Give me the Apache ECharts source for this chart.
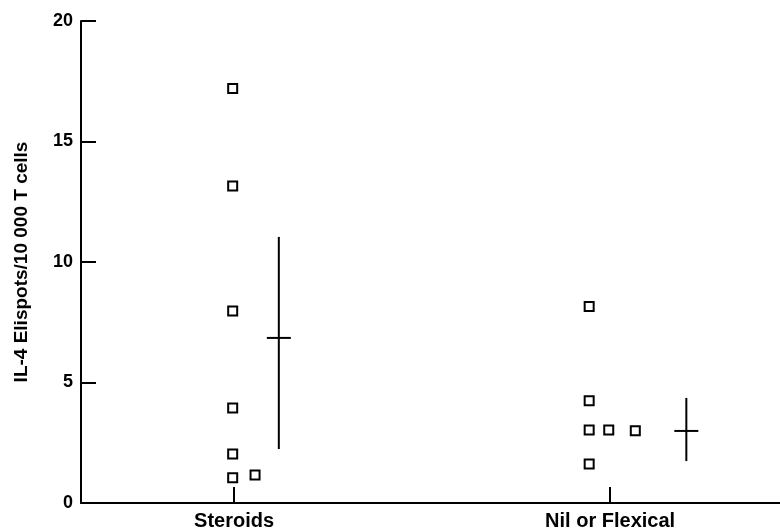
<!DOCTYPE html>
<html>
<head>
<meta charset="utf-8">
<script src="https://cdn.jsdelivr.net/npm/echarts@6/dist/echarts.min.js"></script>
<style>
  html, body { margin: 0; padding: 0; background: #fff; }
  #chart { width: 780px; height: 532px; }
</style>
</head>
<body>
<div id="chart"></div>
<script>
// groups and where they sit on the horizontal scale
var categories = ['Steroids', 'Nil or Flexical']
var categoryPos = [21.9, 75.7]

// individual patients: [x, IL-4 Elispots]
var steroidPoints = [[21.7, 17.2], [21.7, 13.15], [21.7, 7.97], [21.7, 3.94], [21.7, 2.03], [21.7, 1.05], [24.9, 1.16]]
var nilPoints = [[72.7, 8.15], [72.7, 4.24], [72.7, 3.03], [75.5, 3.03], [79.3, 3.0], [72.7, 1.62]]

// mean and spread: [x, mean, low, high]
var meanBars = [[28.3, 6.85, 2.24, 11.04], [86.6, 2.99, 1.74, 4.36]]

var yTicks = [0, 5, 10, 15, 20]

var chart = echarts.init(document.getElementById('chart'))

var fontFam = '"Liberation Sans", Arial, sans-serif'

chart.setOption({
  animation: false,
  grid: { left: 81, right: 0, top: 21, bottom: 29 },
  xAxis: {
    type: 'value',
    min: 0,
    max: 100,
    splitLine: { show: false },
    axisLine: { lineStyle: { color: '#000', width: 2 } },
    axisTick: {
      show: true,
      inside: true,
      length: 16,
      customValues: categoryPos,
      lineStyle: { color: '#000', width: 2 }
    },
    axisLabel: {
      customValues: categoryPos,
      formatter: function (v) {
        var i = categoryPos.indexOf(v)
        return i >= 0 ? categories[i] : ''
      },
      color: '#000',
      fontFamily: fontFam,
      fontWeight: 'bold',
      fontSize: 20,
      margin: 8
    }
  },
  yAxis: {
    type: 'value',
    min: 0,
    max: 20,
    interval: 5,
    name: 'IL-4 Elispots/10 000 T cells',
    nameLocation: 'middle',
    nameGap: 50,
    nameTextStyle: {
      color: '#000',
      fontFamily: fontFam,
      fontWeight: 'bold',
      fontSize: 19
    },
    splitLine: { show: false },
    axisLine: { show: true, lineStyle: { color: '#000', width: 2 } },
    axisTick: {
      show: true,
      inside: true,
      length: 15,
      customValues: yTicks,
      lineStyle: { color: '#000', width: 2 }
    },
    axisLabel: {
      customValues: yTicks,
      color: '#000',
      fontFamily: fontFam,
      fontWeight: 'bold',
      fontSize: 18,
      margin: 8
    }
  },
  series: [
    {
      type: 'scatter',
      data: steroidPoints.concat(nilPoints),
      symbol: 'rect',
      symbolSize: 9,
      itemStyle: { color: '#fff', borderColor: '#000', borderWidth: 2, opacity: 1 }
    },
    {
      type: 'custom',
      data: meanBars,
      renderItem: function (params, api) {
        var x = api.value(0)
        var mid = api.coord([x, api.value(1)])
        var lo = api.coord([x, api.value(2)])
        var hi = api.coord([x, api.value(3)])
        var style = { stroke: '#000', lineWidth: 2 }
        return {
          type: 'group',
          children: [
            { type: 'line', shape: { x1: hi[0], y1: hi[1], x2: lo[0], y2: lo[1] }, style: style },
            { type: 'line', shape: { x1: mid[0] - 12, y1: mid[1], x2: mid[0] + 12, y2: mid[1] }, style: style }
          ]
        }
      }
    }
  ]
})
</script>
</body>
</html>
